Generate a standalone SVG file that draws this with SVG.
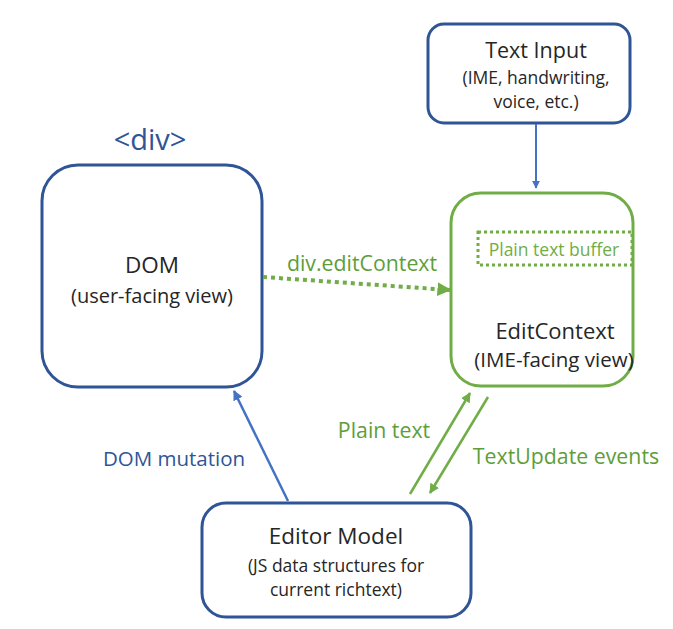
<svg xmlns="http://www.w3.org/2000/svg" width="673" height="629" viewBox="0 0 673 629">
<style>
text{font-family:"Open Sans","Noto Sans","Liberation Sans",sans-serif;text-anchor:middle;fill:#262626}
.s{font-size:17.5px}
.b{fill:none;stroke:#2F5597;stroke-width:3}
.g{fill:none;stroke:#70AD47;stroke-width:3}
.gl{fill:#5E9E3A;font-size:21.3px}
.bl{fill:#2F5597;font-size:20.5px}
</style>
<defs>
<marker id="ab" viewBox="0 0 10 10" refX="9" refY="5" markerWidth="4" markerHeight="4" orient="auto"><path d="M0,0L10,5L0,10z" fill="#4472C4"/></marker>
<marker id="ag" viewBox="0 0 10 10" refX="9" refY="5" markerWidth="4" markerHeight="4" orient="auto"><path d="M0,0L10,5L0,10z" fill="#70AD47"/></marker>
<marker id="agd" viewBox="0 0 10 10" refX="9" refY="5" markerWidth="3.5" markerHeight="3.5" orient="auto"><path d="M0,0L10,5L0,10z" fill="#70AD47"/></marker>
</defs>
<g id="text-input">
<rect class="b" x="428" y="24" width="202" height="99" rx="16"/>
<text x="536" y="58" style="font-size:21.5px">Text Input</text>
<text class="s" x="536" y="84">(IME, handwriting,</text>
<text class="s" x="536" y="108">voice, etc.)</text>
</g>
<g id="dom">
<text x="150" y="150" style="font-size:29px;fill:#2F5597">&lt;div&gt;</text>
<rect class="b" x="42" y="165" width="220" height="222" rx="36"/>
<text x="152" y="273" style="font-size:22.5px">DOM</text>
<text x="152" y="303" style="font-size:20px">(user-facing view)</text>
</g>
<g id="editcontext">
<rect class="g" x="451" y="193" width="182" height="193" rx="30"/>
<rect x="478" y="232" width="154" height="33" fill="none" stroke="#70AD47" stroke-width="3" stroke-dasharray="3 3"/>
<text x="554" y="256" style="font-size:17.5px;fill:#70AD47">Plain text buffer</text>
<text x="555" y="339" style="font-size:22px">EditContext</text>
<text x="554" y="367" style="font-size:20.5px">(IME-facing view)</text>
</g>
<g id="editor-model">
<rect class="b" x="202" y="503" width="269" height="114" rx="24"/>
<text x="336" y="544" style="font-size:22.5px">Editor Model</text>
<text class="s" x="336" y="572">(JS data structures for</text>
<text class="s" x="336" y="596">current richtext)</text>
</g>
<g id="connectors">
<line x1="536" y1="124" x2="536" y2="188" stroke="#4472C4" stroke-width="2" marker-end="url(#ab)"/>
<line x1="263" y1="277" x2="450" y2="290" stroke="#70AD47" stroke-width="4" stroke-dasharray="4 4" marker-end="url(#agd)"/>
<text x="362" y="271" class="gl">div.editContext</text>
<line x1="288" y1="501" x2="234" y2="391" stroke="#4472C4" stroke-width="2.5" marker-end="url(#ab)"/>
<text x="174" y="466" class="bl">DOM mutation</text>
<line x1="410" y1="494" x2="470" y2="393" stroke="#70AD47" stroke-width="2.5" marker-end="url(#ag)"/>
<text x="384" y="438" class="gl">Plain text</text>
<line x1="488" y1="397" x2="430" y2="493" stroke="#70AD47" stroke-width="2.5" marker-end="url(#ag)"/>
<text x="566" y="464" class="gl">TextUpdate events</text>
</g>
</svg>
